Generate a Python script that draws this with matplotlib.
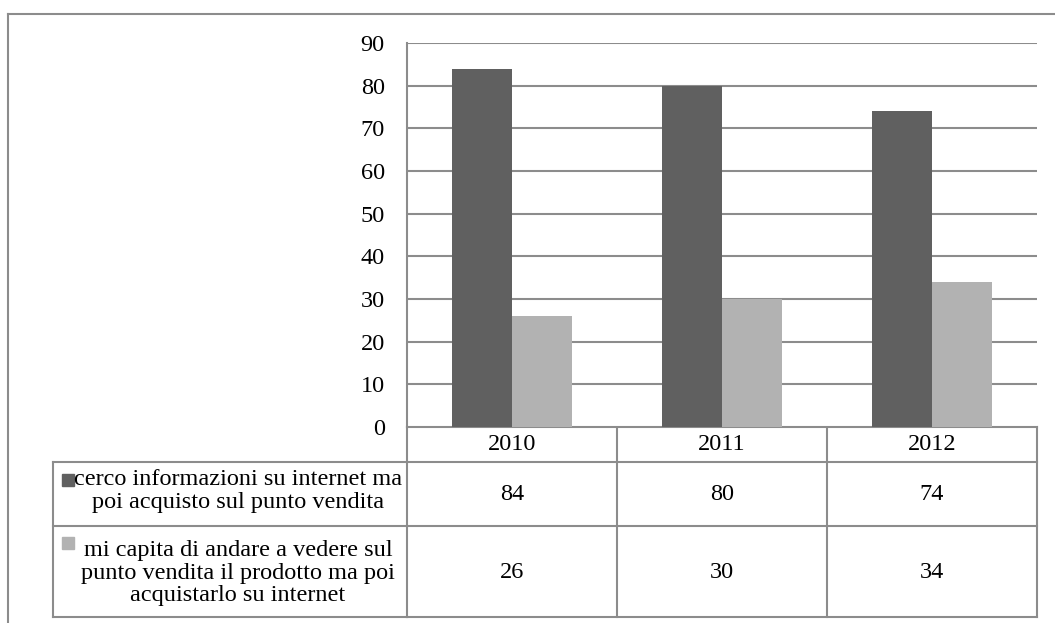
import matplotlib.pyplot as plt
import matplotlib.transforms as mtransforms
import numpy as np

# data
years = ['2010', '2011', '2012']
cerco = [84, 80, 74]
capita = [26, 30, 34]
labels = ['cerco informazioni su internet ma\npoi acquisto sul punto vendita',
          'mi capita di andare a vedere sul\npunto vendita il prodotto ma poi\nacquistarlo su internet']
colors = ['#606060', '#b2b2b2']
yticks = np.arange(0, 100, 10)

plt.rcParams['font.family'] = ['Liberation Serif', 'DejaVu Serif']
W, H = 1055, 623
grid_c = '#8c8c8c'
fs = 17.5

fig = plt.figure(figsize=(W / 100, H / 100), dpi=100)
# overlay in pixel coords for frame / table rows
over = fig.add_axes([0, 0, 1, 1])
over.set_xlim(0, W)
over.set_ylim(H, 0)
over.axis('off')

# plot area: x 407..1037, y 43..427
ax = fig.add_axes([407 / W, 1 - 427 / H, 630 / W, 384 / H])
x = np.arange(len(years))
bw = 0.2857
ax.bar(x - bw / 2, cerco, bw, color=colors[0], zorder=3)
ax.bar(x + bw / 2, capita, bw, color=colors[1], zorder=3)
ax.set_xlim(-0.5, len(years) - 0.5)
ax.set_ylim(0, 90)
ax.set_yticks(yticks)
ax.yaxis.grid(True, color=grid_c, linewidth=1.5, zorder=0)
ax.set_axisbelow(True)
ax.set_xticks([])
ax.tick_params(axis='y', length=0, pad=16, labelsize=fs)
for s in ['top', 'right', 'bottom']:
    ax.spines[s].set_visible(False)
ax.spines['left'].set_color(grid_c)
ax.spines['left'].set_linewidth(1.5)

lw = 1.5
# outer frame
over.plot([8, 8], [H, 14], color=grid_c, lw=lw)
over.plot([8, W], [14, 14], color=grid_c, lw=lw)

# data table
tr = mtransforms.blended_transform_factory(ax.transData, over.transData)
row_y = [427, 462, 526, 617]
edges = np.arange(len(years) + 1) - 0.5
for e in edges:
    over.plot([e, e], [row_y[0], row_y[-1]], color=grid_c, lw=lw, transform=tr)
for yy in row_y[1:]:
    over.plot([53, 407], [yy, yy], color=grid_c, lw=lw)
    over.plot([-0.5, len(years) - 0.5], [yy, yy], color=grid_c, lw=lw, transform=tr)
over.plot([-0.5, len(years) - 0.5], [row_y[0], row_y[0]], color=grid_c, lw=lw, transform=tr)
over.plot([53, 53], [row_y[1], row_y[-1]], color=grid_c, lw=lw)

for i, yr in enumerate(years):
    over.text(i, 445, yr, ha='center', va='center', fontsize=fs, transform=tr)
    over.text(i, 495, str(cerco[i]), ha='center', va='center', fontsize=fs, transform=tr)
    over.text(i, 573, str(capita[i]), ha='center', va='center', fontsize=fs, transform=tr)

over.text(238, 491, labels[0], ha='center', va='center', fontsize=fs,
          linespacing=1.12, multialignment='center')
over.text(238, 573, labels[1], ha='center', va='center', fontsize=fs,
          linespacing=1.12, multialignment='center')
# legend keys
over.add_patch(plt.Rectangle((62, 474), 12, 12, color=colors[0]))
over.add_patch(plt.Rectangle((62, 537), 12, 12, color=colors[1]))

plt.savefig('out.png', dpi=100)
